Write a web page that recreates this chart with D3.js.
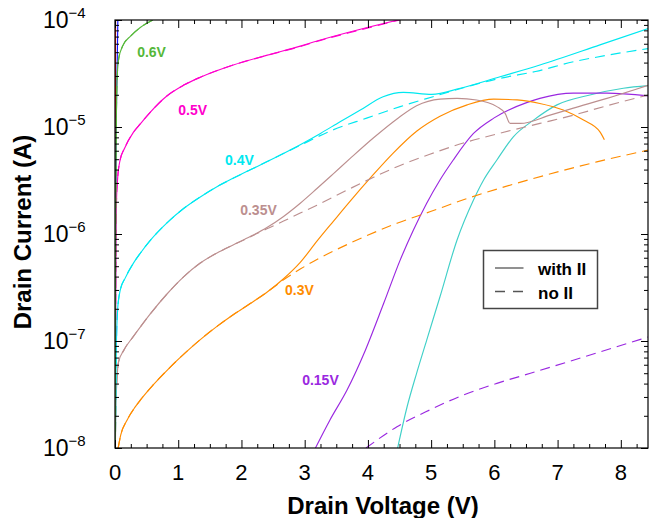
<!DOCTYPE html>
<html><head><meta charset="utf-8">
<script src="https://cdn.jsdelivr.net/npm/d3@7/dist/d3.min.js"></script>
<style>
html,body{margin:0;padding:0;background:#fff;}
svg text{font-family:"Liberation Sans",Arial,Helvetica,sans-serif;}
</style></head>
<body><svg id="chart" width="649" height="518"></svg>
<script>
// ---------- DATA (Vd in V, Id in A) ----------
const xTicks = [0,1,2,3,4,5,6,7,8];
const yTickExps = [-8,-7,-6,-5,-4];

const red_with = [[0.002,1e-8],[0.004,1e-6],[0.006,2e-5],[0.009,1e-4]];
const blue_with = [[0.003,1e-8],[0.01,1e-6],[0.02,1e-5],[0.035,4e-5],[0.045,1e-4]];

const g06_with = [[0.003,1e-8],[0.01,1e-6],[0.02,1e-5],[0.035,3e-5],[0.06,4.4e-5],[0.12,5.7e-5],[0.25,7.1e-5],[0.40,8.5e-5],[0.60,1e-4]];
const g06_no   = [[0.003,1e-8],[0.01,1e-6],[0.02,1e-5],[0.035,3e-5],[0.06,4.4e-5],[0.12,5.7e-5],[0.25,7.1e-5],[0.40,8.5e-5],[0.60,1e-4]];

const m05_with = [[0.002,1e-8],[0.008,1e-7],[0.016,1e-6],[0.025,2.2e-6],[0.04,3.2e-6],[0.08,4.9e-6],[0.15,6.3e-6],[0.29,8.91e-6],[0.40,1.07e-5],[0.56,1.38e-5],[0.82,1.95e-5],[1.08,2.45e-5],[1.35,2.92e-5],[1.87,3.8e-5],[2.41,4.7e-5],[2.93,5.7e-5],[3.25,6.5e-5],[3.85,8.1e-5],[4.48,1e-4]];
const m05_no   = [[0.002,1e-8],[0.008,1e-7],[0.016,1e-6],[0.025,2.2e-6],[0.04,3.2e-6],[0.08,4.9e-6],[0.15,6.3e-6],[0.29,8.91e-6],[0.40,1.07e-5],[0.56,1.38e-5],[0.82,1.95e-5],[1.08,2.45e-5],[1.35,2.92e-5],[1.87,3.8e-5],[2.41,4.68e-5],[2.93,5.65e-5],[3.25,6.45e-5],[3.85,8.0e-5],[4.50,1e-4]];

const c04_with = [[0.005,1e-8],[0.012,3e-8],[0.02,8e-8],[0.041,1.95e-7],[0.084,3.0e-7],[0.163,3.89e-7],[0.294,5.37e-7],[0.40,6.61e-7],[0.558,8.71e-7],[0.822,1.27e-6],[1.085,1.73e-6],[1.349,2.22e-6],[1.613,2.77e-6],[1.875,3.33e-6],[2.14,3.98e-6],[2.40,4.73e-6],[2.93,6.84e-6],[3.25,8.71e-6],[3.56,1.12e-5],[3.88,1.44e-5],[4.24,1.92e-5],[4.56,2.11e-5],[5.01,2.02e-5],[5.46,2.30e-5],[6.09,2.95e-5],[6.72,3.8e-5],[7.67,5.86e-5],[8.45,8.4e-5]];
const c04_no   = [[0.005,1e-8],[0.012,3e-8],[0.02,8e-8],[0.041,1.95e-7],[0.084,3.0e-7],[0.163,3.89e-7],[0.294,5.37e-7],[0.40,6.61e-7],[0.558,8.71e-7],[0.822,1.27e-6],[1.085,1.73e-6],[1.349,2.22e-6],[1.613,2.77e-6],[1.875,3.33e-6],[2.14,3.98e-6],[2.40,4.73e-6],[2.93,6.75e-6],[3.45,9.4e-6],[3.98,1.21e-5],[4.51,1.55e-5],[5.03,1.92e-5],[5.57,2.38e-5],[6.09,2.85e-5],[6.65,3.3e-5],[7.25,4.07e-5],[7.78,4.68e-5],[8.45,5.43e-5]];

const b035_with = [[0.005,1e-8],[0.015,2.5e-8],[0.03,4.2e-8],[0.057,6.4e-8],[0.136,8.13e-8],[0.294,1.11e-7],[0.40,1.35e-7],[0.558,1.79e-7],[0.822,2.75e-7],[1.085,3.98e-7],[1.349,5.35e-7],[1.613,6.64e-7],[1.875,7.94e-7],[2.139,9.46e-7],[2.403,1.15e-6],[2.666,1.46e-6],[2.93,1.94e-6],[3.194,2.66e-6],[3.456,3.67e-6],[3.72,5.09e-6],[4.09,7.94e-6],[4.46,1.19e-5],[4.77,1.58e-5],[5.14,1.82e-5],[5.41,1.85e-5],[5.72,1.79e-5],[6.04,1.55e-5],[6.17,1.34e-5],[6.25,1.08e-5],[6.41,1.08e-5],[6.88,1.29e-5],[7.25,1.50e-5],[7.78,1.85e-5],[8.45,2.47e-5]];
const b035_no   = [[0.005,1e-8],[0.015,2.5e-8],[0.03,4.2e-8],[0.057,6.4e-8],[0.136,8.13e-8],[0.294,1.11e-7],[0.40,1.35e-7],[0.558,1.79e-7],[0.822,2.75e-7],[1.085,3.98e-7],[1.349,5.35e-7],[1.613,6.64e-7],[1.875,7.94e-7],[2.139,9.40e-7],[2.403,1.12e-6],[2.666,1.32e-6],[2.93,1.57e-6],[3.194,1.86e-6],[3.72,2.66e-6],[4.09,3.39e-6],[4.51,4.37e-6],[4.98,5.56e-6],[5.51,7.08e-6],[6.04,8.61e-6],[6.72,1.08e-5],[7.25,1.29e-5],[7.78,1.58e-5],[8.45,2.0e-5]];

const o03_with = [[0.05,1e-8],[0.09,1.32e-8],[0.19,1.82e-8],[0.32,2.42e-8],[0.40,2.80e-8],[0.60,3.86e-8],[0.874,5.71e-8],[1.11,7.74e-8],[1.349,1.03e-7],[1.613,1.37e-7],[1.875,1.77e-7],[2.139,2.24e-7],[2.403,2.86e-7],[2.666,3.82e-7],[2.93,5.43e-7],[3.194,8.57e-7],[3.456,1.32e-6],[3.72,2.03e-6],[4.06,3.45e-6],[4.40,5.70e-6],[4.77,9.12e-6],[5.14,1.26e-5],[5.57,1.61e-5],[5.99,1.82e-5],[6.36,1.79e-5],[6.72,1.66e-5],[7.09,1.44e-5],[7.41,1.16e-5],[7.67,9.0e-6],[7.74,7.6e-6]];
const o03_no   = [[0.05,1e-8],[0.09,1.32e-8],[0.19,1.82e-8],[0.32,2.42e-8],[0.40,2.80e-8],[0.60,3.86e-8],[0.874,5.71e-8],[1.11,7.74e-8],[1.349,1.03e-7],[1.613,1.37e-7],[1.875,1.77e-7],[2.139,2.24e-7],[2.403,2.86e-7],[2.666,3.73e-7],[2.93,4.70e-7],[3.194,5.78e-7],[3.72,8.22e-7],[4.46,1.26e-6],[4.99,1.62e-6],[5.51,2.09e-6],[6.57,3.24e-6],[7.62,4.72e-6],[8.45,6.11e-6]];

const t02_with = [[4.47,1e-8],[4.62,2.43e-8],[4.77,4.99e-8],[4.93,1.02e-7],[5.14,2.59e-7],[5.41,8.8e-7],[5.67,2.08e-6],[5.83,3.2e-6],[6.04,4.92e-6],[6.30,8.1e-6],[6.62,1.16e-5],[6.99,1.61e-5],[7.51,1.99e-5],[8.04,2.30e-5],[8.45,2.44e-5]];

const p015_with = [[3.17,1e-8],[3.40,1.83e-8],[3.67,3.48e-8],[3.96,8.2e-8],[4.25,2.25e-7],[4.51,5.7e-7],[4.72,1.09e-6],[4.93,1.94e-6],[5.14,3.2e-6],[5.35,4.92e-6],[5.67,8.7e-6],[5.99,1.21e-5],[6.51,1.69e-5],[6.72,1.85e-5],[7.25,2.07e-5],[7.78,2.07e-5],[8.45,1.95e-5]];
const p015_no   = [[3.97,1e-8],[4.46,1.58e-8],[4.98,2.27e-8],[5.51,3.13e-8],[6.04,4.02e-8],[6.57,4.99e-8],[8.43,1.09e-7]];

const curveLabels = ["0.6V","0.5V","0.4V","0.35V","0.3V","0.15V"];
const curveLabelAt = [[0.35,4.5e-5],[1.0,1.29e-5],[1.74,4.42e-6],[1.98,1.51e-6],[2.69,2.69e-7],[2.96,3.88e-8]];
const legendLabels = ["with II","no II"];

// ---------- STYLES ----------
const COL = {red:"#ff0000", blue:"#1010ff", g:"#55b83a", m:"#ff00cc", c:"#00e8f0", b:"#bc8f8f", o:"#ff8c00", t:"#40d0c8", p:"#9a28e0"};
const series = [
  {d:red_with, c:COL.red, dash:false},
  {d:blue_with, c:COL.blue, dash:false},
  {d:t02_with, c:COL.t, dash:false},
  {d:p015_no, c:COL.p, dash:true},
  {d:p015_with, c:COL.p, dash:false},
  {d:o03_no, c:COL.o, dash:true},
  {d:o03_with, c:COL.o, dash:false},
  {d:b035_no, c:COL.b, dash:true},
  {d:b035_with, c:COL.b, dash:false},
  {d:c04_no, c:COL.c, dash:true},
  {d:c04_with, c:COL.c, dash:false},
  {d:m05_no, c:COL.m, dash:true},
  {d:m05_with, c:COL.m, dash:false},
  {d:g06_no, c:COL.g, dash:true},
  {d:g06_with, c:COL.g, dash:false}
];
const labelColors = [COL.g, COL.m, COL.c, COL.b, COL.o, COL.p];

// ---------- CHART ----------
const L=115, R=648, T=20, B=448;
const svg = d3.select("#chart");
const x = d3.scaleLinear().domain([0,8.43]).range([L,R]);
const y = d3.scaleLog().domain([1e-8,1e-4]).range([B,T]);

svg.append("defs").append("clipPath").attr("id","clip")
  .append("rect").attr("x",L).attr("y",T).attr("width",R-L).attr("height",B-T);

const line = d3.line().x(d=>x(d[0])).y(d=>y(d[1])).curve(d3.curveMonotoneX);
const gLines = svg.append("g").attr("clip-path","url(#clip)");
series.forEach(s=>{
  gLines.append("path").attr("d",line(s.d)).attr("fill","none")
    .attr("stroke",s.c).attr("stroke-width",1.15)
    .attr("stroke-dasharray", s.dash ? "10,6" : null);
});

// axes
const minorX = d3.range(0,8.43,0.25).filter(v=>Math.abs(v-Math.round(v))>1e-6);
const minorY = [];
yTickExps.slice(0,-1).forEach(e=>{for(let k=2;k<=9;k++) minorY.push(k*Math.pow(10,e));});
const majorY = yTickExps.map(e=>Math.pow(10,e));

function styleAxis(g){ g.select(".domain").remove(); g.selectAll("line").attr("stroke","#000").attr("stroke-width",1); g.selectAll("text").remove(); }

svg.append("g").attr("transform",`translate(0,${B})`).call(d3.axisBottom(x).tickValues(xTicks).tickSize(-8)).call(styleAxis);
svg.append("g").attr("transform",`translate(0,${B})`).call(d3.axisBottom(x).tickValues(minorX).tickSize(-4)).call(styleAxis);
svg.append("g").attr("transform",`translate(0,${T})`).call(d3.axisTop(x).tickValues(xTicks).tickSize(-8)).call(styleAxis);
svg.append("g").attr("transform",`translate(0,${T})`).call(d3.axisTop(x).tickValues(minorX).tickSize(-4)).call(styleAxis);
svg.append("g").attr("transform",`translate(${L},0)`).call(d3.axisLeft(y).tickValues(majorY).tickSize(-7)).call(styleAxis);
svg.append("g").attr("transform",`translate(${L},0)`).call(d3.axisLeft(y).tickValues(minorY).tickSize(-4)).call(styleAxis);
svg.append("g").attr("transform",`translate(${R},0)`).call(d3.axisRight(y).tickValues(majorY).tickSize(-7)).call(styleAxis);
svg.append("g").attr("transform",`translate(${R},0)`).call(d3.axisRight(y).tickValues(minorY).tickSize(-4)).call(styleAxis);

svg.append("rect").attr("x",L).attr("y",T).attr("width",R-L).attr("height",B-T)
  .attr("fill","none").attr("stroke","#000").attr("stroke-width",1.2);

// tick labels
svg.append("g").selectAll("text").data(xTicks).join("text")
  .attr("x",d=>x(d)).attr("y",B+32).attr("text-anchor","middle")
  .attr("font-size",22).attr("fill","#000").text(d=>d);

const yl = svg.append("g").selectAll("text").data(yTickExps).join("text")
  .attr("x",43).attr("y",d=>y(Math.pow(10,d))+8).attr("font-size",23).attr("fill","#000");
yl.append("tspan").text("10");
yl.append("tspan").attr("dy",-10).attr("font-size",15).text(d=>"\u2212"+Math.abs(d));

// axis titles
svg.append("text").attr("x",383).attr("y",514).attr("text-anchor","middle")
  .attr("font-size",24).attr("font-weight","bold").text("Drain Voltage (V)");
svg.append("text").attr("transform","translate(31,232) rotate(-90)").attr("text-anchor","middle")
  .attr("font-size",24).attr("font-weight","bold").text("Drain Current (A)");

// curve labels
svg.append("g").selectAll("text").data(curveLabels).join("text")
  .attr("x",(d,i)=>x(curveLabelAt[i][0])).attr("y",(d,i)=>y(curveLabelAt[i][1]))
  .attr("font-size",14).attr("font-weight","bold").attr("fill",(d,i)=>labelColors[i]).text(d=>d);

// legend
const lg = svg.append("g");
lg.append("rect").attr("x",483.5).attr("y",250.5).attr("width",114).attr("height",58)
  .attr("fill","#fff").attr("stroke","#444").attr("stroke-width",1.5);
legendLabels.forEach((t,i)=>{
  const yy = 268 + i*23.5;
  lg.append("line").attr("x1",495).attr("x2",523.5).attr("y1",yy).attr("y2",yy)
    .attr("stroke","#555").attr("stroke-width",1.3).attr("stroke-dasharray", i===1 ? "10,8" : null);
  lg.append("text").attr("x",538).attr("y",yy+7).attr("font-size",17).attr("font-weight","bold").attr("fill","#000").text(t);
});
</script></body></html>
